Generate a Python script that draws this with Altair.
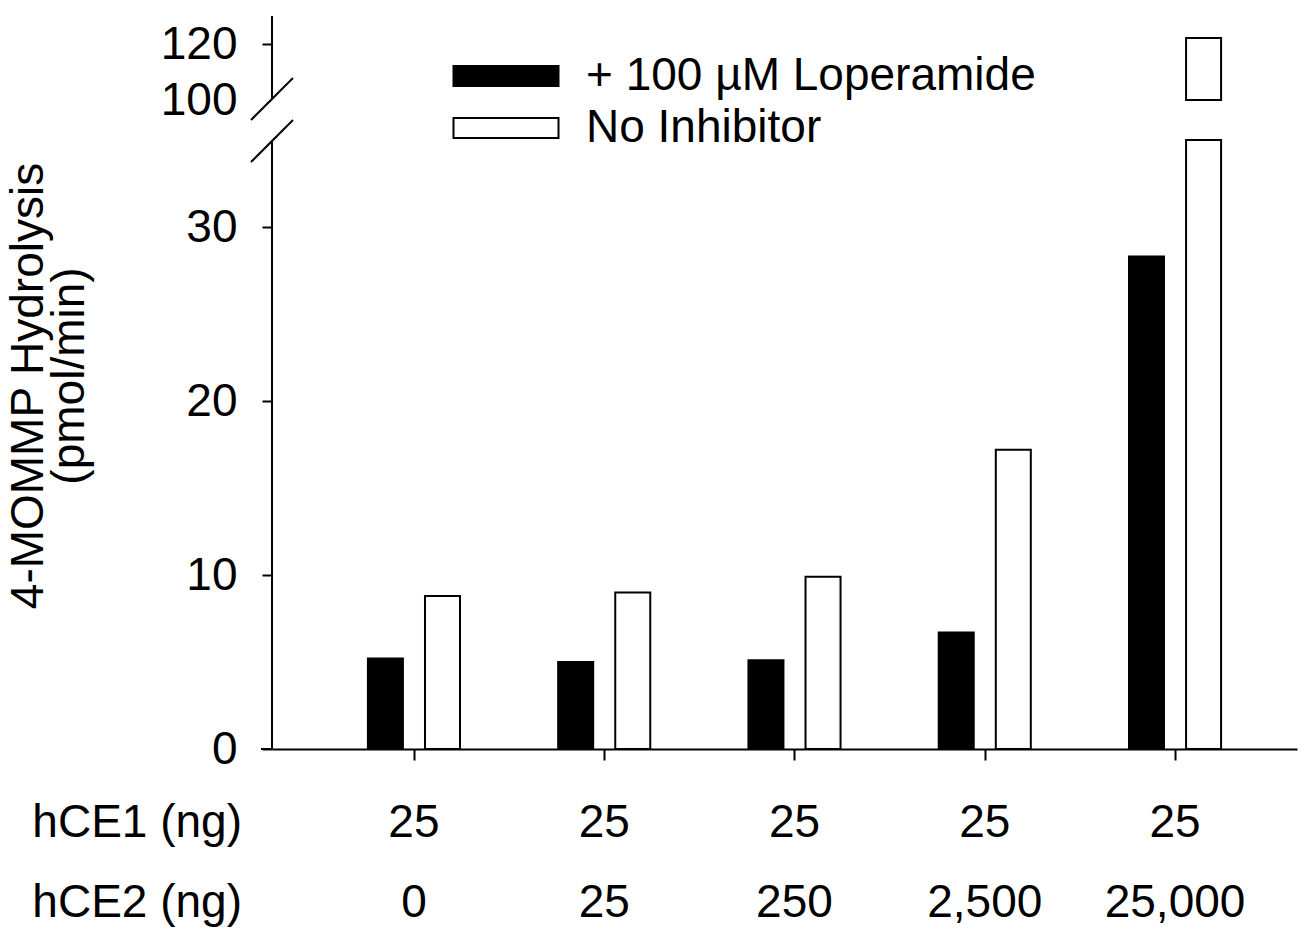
import altair as alt
import pandas as pd

# ---------------- data ----------------
hce1_ng = ["25", "25", "25", "25", "25"]
hce2_ng = ["0", "25", "250", "2,500", "25,000"]
loperamide = [5.2, 5.0, 5.1, 6.7, 28.3]
no_inhibitor = [8.8, 9.0, 9.9, 17.2, 122.1]
series = ["+ 100 µM Loperamide", "No Inhibitor"]
lower_ticks = [0, 10, 20, 30]
upper_ticks = [100, 120]

# ---------------- layout constants ----------------
W, H = 1025, 733
LOW_MAX = 35.0                 # top of lower segment
PX = 609 / LOW_MAX             # px per lower unit
UP_START = (H - 84) / PX       # display position of value 100
UP_K = (84 / 30) / PX          # display units per upper-segment unit
TOP = H / PX                   # display domain max (value 130)

FONT = "Liberation Sans"
FS = 46

groups = list(range(1, len(hce1_ng) + 1))
rows = []
for i, g in enumerate(groups):
    rows.append({"group": g, "k": 0, "series": series[0], "value": loperamide[i]})
    rows.append({"group": g, "k": 1, "series": series[1], "value": no_inhibitor[i]})
df = pd.DataFrame(rows)
labels_df = pd.DataFrame({"group": groups, "hce1": hce1_ng, "hce2": hce2_ng})

xscale = alt.Scale(domain=[0.254, 5.641], nice=False, zero=False, padding=0)
yscale = alt.Scale(domain=[0, TOP], nice=False, zero=False, padding=0)

tick_vals = lower_ticks + [UP_START + (t - 100) * UP_K for t in upper_ticks]
label_expr = (
    f"datum.value > {LOW_MAX + 1} ? "
    f"format(round(100 + (datum.value - {UP_START}) / {UP_K}), 'd') : format(datum.value, 'd')"
)
hide_break_tick = {
    "condition": {"test": f"datum.value > {LOW_MAX + 1} && datum.value < {UP_START + 0.1}", "value": 0},
    "value": 1,
}

color = alt.Color(
    "series:N",
    scale=alt.Scale(domain=series, range=["#000000", "#ffffff"]),
    legend=alt.Legend(
        title=None, orient="none", legendX=211, legendY=37,
        symbolType="M-5,-0.95H5V0.95H-5Z", symbolSize=441,
        symbolStrokeColor="black", symbolStrokeWidth=2, symbolOpacity=1,
        labelFont=FONT, labelFontSize=FS, labelColor="black",
        labelOffset=57, labelLimit=0, rowPadding=6, padding=0,
    ),
)

base = alt.Chart(df).transform_calculate(
    xpos="datum.group + (datum.k == 0 ? -0.15 : 0.15)",
)

lower = base.transform_calculate(
    low=f"min(datum.value, {LOW_MAX})"
).mark_bar(size=35, stroke="black", strokeWidth=2).encode(
    x=alt.X("xpos:Q", scale=xscale, axis=alt.Axis(
        values=groups, labels=False, tickSize=11, tickWidth=2, tickColor="black",
        domain=True, domainColor="black", domainWidth=2, grid=False, title=None)),
    y=alt.Y("low:Q", scale=yscale, axis=alt.Axis(
        values=tick_vals, labelExpr=label_expr, domain=False, tickSize=10,
        tickWidth=2, tickColor="black", tickOpacity=hide_break_tick,
        labelFont=FONT, labelFontSize=FS,
        labelColor="black", labelPadding=25, grid=False, title=None)),
    y2=alt.datum(0),
    color=color,
)

upper = base.transform_filter(
    "datum.value > 100"
).transform_calculate(
    up_top=f"{UP_START} + (datum.value - 100) * {UP_K}",
    up_bot=f"{UP_START}",
).mark_bar(size=35, stroke="black", strokeWidth=2).encode(
    x=alt.X("xpos:Q", scale=xscale),
    y=alt.Y("up_top:Q", scale=yscale),
    y2="up_bot:Q",
    color=color,
)

one = pd.DataFrame({"a": [0]})

def rule(x1, x2, y1, y2):
    return alt.Chart(one).mark_rule(color="black", strokeWidth=2).encode(
        x=alt.value(x1), x2=alt.value(x2), y=alt.value(y1), y2=alt.value(y2))

decor = [
    rule(0, 0, 125, H),        # lower y axis line
    rule(0, 0, 0, 83),         # upper y axis line
    rule(-21, 21, 104, 62),    # break mark 1
    rule(-21, 21, 146, 104),   # break mark 2
    rule(-11, 0, H, H),        # x-axis line extension
]

row1 = alt.Chart(labels_df).mark_text(
    font=FONT, fontSize=FS, color="black", baseline="alphabetic", align="center"
).encode(x=alt.X("group:Q", scale=xscale), y=alt.value(821), text="hce1:N")
row2 = alt.Chart(labels_df).mark_text(
    font=FONT, fontSize=FS, color="black", baseline="alphabetic", align="center"
).encode(x=alt.X("group:Q", scale=xscale), y=alt.value(901), text="hce2:N")

def label(text, x, y, align="right", angle=0):
    return alt.Chart(pd.DataFrame({"t": [text]})).mark_text(
        font=FONT, fontSize=FS, color="black", baseline="alphabetic",
        align=align, angle=angle
    ).encode(x=alt.value(x), y=alt.value(y), text="t:N")

texts = [
    label("hCE1 (ng)", -30, 821),
    label("hCE2 (ng)", -30, 901),
    label("4-MOMMP Hydrolysis", -229, 370, align="center", angle=270),
    label("(pmol/min)", -188, 360, align="center", angle=270),
]

chart = alt.layer(lower, upper, *decor, row1, row2, *texts).properties(
    width=W, height=H,
    autosize=alt.AutoSizeParams(type="none"),
    padding={"left": 272, "top": 16, "right": 11, "bottom": 180},
    background="white",
).configure_view(stroke=None)

chart.save("out.html", embed_options={"renderer": "svg", "actions": False})
